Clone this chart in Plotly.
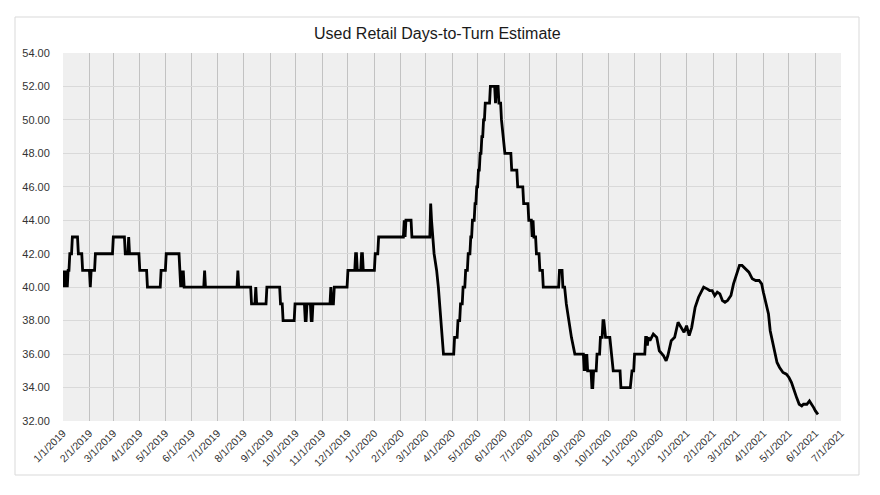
import plotly.graph_objects as go

title_text = "Used Retail Days-to-Turn Estimate"

dates = [
    "2019-01-01","2019-01-02","2019-01-03","2019-01-04","2019-01-05","2019-01-06","2019-01-07","2019-01-08",
    "2019-01-09","2019-01-11","2019-01-12","2019-01-18","2019-01-19","2019-01-23","2019-01-24","2019-02-01",
    "2019-02-02","2019-02-03","2019-02-07","2019-02-08","2019-02-28","2019-03-01","2019-03-14","2019-03-15",
    "2019-03-18","2019-03-19","2019-03-20","2019-03-31","2019-04-01","2019-04-09","2019-04-10","2019-04-25",
    "2019-04-26","2019-05-01","2019-05-02","2019-05-17","2019-05-18","2019-05-19","2019-05-20","2019-05-21",
    "2019-05-22","2019-05-23","2019-06-15","2019-06-16","2019-06-17","2019-07-24","2019-07-25","2019-07-26",
    "2019-08-09","2019-08-10","2019-08-14","2019-08-15","2019-08-16","2019-08-27","2019-08-28","2019-09-12",
    "2019-09-13","2019-09-15","2019-09-16","2019-09-29","2019-09-30","2019-10-11","2019-10-12","2019-10-13",
    "2019-10-14","2019-10-18","2019-10-19","2019-10-20","2019-10-21","2019-11-10","2019-11-11","2019-11-12",
    "2019-11-14","2019-11-15","2019-11-30","2019-12-01","2019-12-09","2019-12-10","2019-12-11","2019-12-12",
    "2019-12-16","2019-12-17","2019-12-18","2019-12-19","2019-12-31",
    "2020-01-01","2020-01-02","2020-01-05","2020-01-06","2020-02-04","2020-02-05","2020-02-06","2020-02-07",
    "2020-02-13","2020-02-14","2020-03-06","2020-03-07","2020-03-08","2020-03-11","2020-03-14","2020-03-16",
    "2020-03-19","2020-03-22","2020-04-03","2020-04-04","2020-04-07","2020-04-08","2020-04-10","2020-04-11",
    "2020-04-13","2020-04-14","2020-04-16","2020-04-17","2020-04-19","2020-04-20","2020-04-22","2020-04-23",
    "2020-04-24","2020-04-25","2020-04-27","2020-04-28","2020-04-29","2020-04-30","2020-05-01","2020-05-02",
    "2020-05-03","2020-05-04","2020-05-05","2020-05-06","2020-05-07","2020-05-08","2020-05-09","2020-05-10",
    "2020-05-15","2020-05-16","2020-05-21","2020-05-22","2020-05-23","2020-05-25","2020-05-26","2020-05-28",
    "2020-05-29","2020-05-31","2020-06-02","2020-06-09","2020-06-10","2020-06-16","2020-06-17","2020-06-23",
    "2020-06-24","2020-06-29","2020-06-30","2020-07-03","2020-07-04","2020-07-05","2020-07-06","2020-07-08",
    "2020-07-09","2020-07-12","2020-07-13","2020-07-16","2020-07-17","2020-08-04","2020-08-05","2020-08-08",
    "2020-08-09","2020-08-11","2020-08-13","2020-08-16","2020-08-19","2020-08-23","2020-09-02","2020-09-03",
    "2020-09-04","2020-09-05","2020-09-06","2020-09-07","2020-09-11","2020-09-12","2020-09-13","2020-09-14",
    "2020-09-17","2020-09-18","2020-09-21","2020-09-22","2020-09-24","2020-09-25","2020-09-26","2020-09-28",
    "2020-10-03","2020-10-05","2020-10-07","2020-10-15","2020-10-16","2020-10-27","2020-10-29","2020-10-31",
    "2020-11-01","2020-11-13","2020-11-14","2020-11-15","2020-11-16","2020-11-17","2020-11-19","2020-11-23",
    "2020-11-27","2020-11-30","2020-12-05","2020-12-08","2020-12-10","2020-12-14","2020-12-18","2020-12-22",
    "2020-12-26","2020-12-29",
    "2021-01-01","2021-01-04","2021-01-07","2021-01-11","2021-01-15","2021-01-19","2021-01-21","2021-01-25",
    "2021-01-28","2021-01-31","2021-02-03","2021-02-06","2021-02-09","2021-02-12","2021-02-15","2021-02-18",
    "2021-02-22","2021-02-25","2021-03-01","2021-03-04","2021-03-07","2021-03-11","2021-03-15","2021-03-19",
    "2021-03-23","2021-03-27","2021-03-30","2021-04-01","2021-04-04","2021-04-07","2021-04-09","2021-04-12",
    "2021-04-15","2021-04-17","2021-04-20","2021-04-24","2021-04-28","2021-05-01","2021-05-04","2021-05-07",
    "2021-05-10","2021-05-13","2021-05-16","2021-05-18","2021-05-22","2021-05-25","2021-05-28","2021-05-30",
    "2021-06-01","2021-06-04",
]

days_to_turn = [
    41, 40, 41, 40, 41, 40, 41, 41,
    42, 42, 43, 43, 42, 42, 41, 41,
    40, 41, 41, 42, 42, 43, 43, 42,
    42, 43, 42, 42, 41, 41, 40, 40,
    41, 41, 42, 42, 41, 40, 41, 40,
    41, 40, 40, 41, 40, 40, 41, 40,
    40, 39, 39, 40, 39, 39, 40, 40,
    39, 39, 38, 38, 39, 39, 38, 38,
    39, 39, 38, 38, 39, 39, 40, 39,
    39, 40, 40, 41, 41, 42, 42, 41,
    41, 42, 42, 41, 41,
    41, 42, 42, 43, 43, 44, 43, 44,
    44, 43, 43, 45, 44, 42, 41, 40,
    38, 36, 36, 37, 37, 38, 38, 39,
    39, 40, 40, 41, 41, 42, 42, 43,
    43, 44, 44, 45, 45, 46, 46, 47,
    47, 48, 48, 49, 49, 50, 50, 51,
    51, 52, 52, 51, 52, 52, 51, 51,
    50, 49, 48, 48, 47, 47, 46, 46,
    45, 45, 44, 44, 43, 44, 43, 43,
    42, 42, 41, 41, 40, 40, 41, 41,
    40, 40, 39, 38, 37, 36, 36, 35,
    36, 35, 36, 35, 35, 34, 34, 35,
    35, 36, 36, 37, 37, 38, 38, 37,
    37, 36, 35, 35, 34, 34, 35, 35,
    36, 36, 37, 37, 36.5, 37, 36.8, 37.2,
    37.0, 36.2, 35.9, 35.6, 35.9, 36.8, 37.0, 37.9,
    37.6, 37.3,
    37.7, 37.1, 37.6, 38.8, 39.4, 39.8, 40.0, 39.9,
    39.8, 39.8, 39.5, 39.7, 39.6, 39.2, 39.1, 39.2,
    39.5, 40.2, 40.9, 41.3, 41.3, 41.1, 40.9, 40.5,
    40.4, 40.4, 40.2, 39.7, 39.1, 38.4, 37.4, 36.6,
    35.9, 35.5, 35.2, 34.9, 34.8, 34.6, 34.3, 33.8,
    33.4, 33.0, 32.9, 33.0, 33.0, 33.2, 33.0, 32.8,
    32.6, 32.4,
]

x_range = ["2019-01-01", "2021-07-01"]
y_range = [32, 54]

fig = go.Figure()
fig.add_trace(go.Scatter(
    x=dates, y=days_to_turn, mode="lines",
    line=dict(color="#000000", width=2.8),
    showlegend=False,
))

L, R, T, B = 63, 39, 53, 74
W, H = 880, 495
pw, ph = W - L - R, H - T - B

fig.update_layout(
    width=W, height=H,
    margin=dict(l=L, r=R, t=T, b=B),
    paper_bgcolor="#ffffff",
    plot_bgcolor="#efefef",
    font=dict(family="Liberation Sans, Arial, sans-serif", color="#333333"),
    title=dict(text=title_text, x=0.497, xanchor="center", y=1 - 33 / H, yanchor="middle",
               font=dict(size=16, color="#1a1a1a", family="Liberation Sans, Arial, sans-serif")),
    shapes=[dict(type="rect", xref="paper", yref="paper",
                 x0=(15 - L) / pw, x1=(859 - L) / pw,
                 y0=-(475 - (T + ph)) / ph, y1=(ph + (T - 17)) / ph,
                 line=dict(color="#d9d9d9", width=1), fillcolor="rgba(0,0,0,0)", layer="below")],
)

fig.update_xaxes(
    type="date", range=x_range, dtick="M1", tick0="2019-01-01",
    tickformat="%-m/%-d/%Y", tickangle=-45,
    tickfont=dict(size=10.5, color="#333333"),
    showgrid=True, gridcolor="#c2c2c2", gridwidth=1,
    zeroline=False, showline=False,
    ticks="outside", ticklen=1, tickcolor="rgba(0,0,0,0)",
)
fig.update_yaxes(
    range=y_range, dtick=2, tick0=32, tickformat=".2f",
    tickfont=dict(size=11, color="#333333"),
    showgrid=True, gridcolor="#d9d9d9", gridwidth=1,
    zeroline=False, showline=False,
    ticks="outside", ticklen=10, tickcolor="rgba(0,0,0,0)",
)

fig.write_html("out.html", config={"displayModeBar": False},
               post_script="document.body.style.margin='0';")
